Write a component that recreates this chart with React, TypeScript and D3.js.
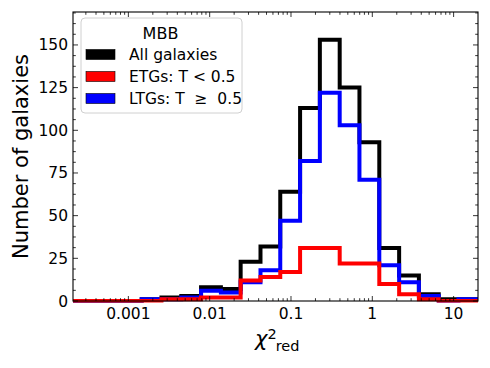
import React, { useEffect, useRef } from 'react';
import * as d3 from 'd3';

// bin edges of the chi2_red histogram (log spaced)
const binEdges = [
  1.549e-4, 2.71e-4, 4.753e-4, 8.318e-4, 1.459e-3, 2.553e-3, 4.477e-3, 7.834e-3,
  1.374e-2, 2.404e-2, 4.217e-2, 7.379e-2, 0.1294, 0.2265, 0.3972, 0.695,
  1.219, 2.138, 3.741, 6.561, 11.48, 20.14,
];

const allCounts = [0, 0, 0, 0, 1, 2, 3, 8, 7, 23, 32, 64, 113, 153, 125, 93, 31, 15, 4, 1, 1];
const etgCounts = [0, 0, 0, 0, 0, 1, 1, 2, 2, 12, 14, 17, 31, 31, 22, 22, 10, 4, 1, 0, 0];
const ltgCounts = [0, 0, 0, 0, 1, 1, 2, 6, 5, 11, 18, 47, 82, 122, 103, 71, 21, 11, 3, 0, 1];

const xTicks = [0.001, 0.01, 0.1, 1, 10];
const xTickLabels = ['0.001', '0.01', '0.1', '1', '10'];
const yTicks = [0, 25, 50, 75, 100, 125, 150];

const legendTitle = 'MBB';
const legendLabels = ['All galaxies', 'ETGs: T < 0.5', 'LTGs: T \u00a0\u2265\u00a0 0.5'];
const legendColors = ['#000000', '#ff0000', '#0000ff'];

const App = () => {
  const svgRef = useRef<SVGSVGElement>(null);

  useEffect(() => {
    const width = 490;
    const height = 368;
    const margin = { top: 12, right: 12, bottom: 67, left: 73 };
    const innerWidth = width - margin.left - margin.right;
    const innerHeight = height - margin.top - margin.bottom;
    const font = 'DejaVu Sans, sans-serif';

    const root = d3.select(svgRef.current);
    root.selectAll('*').remove();
    root.attr('width', width).attr('height', height);

    const svg = root.append('g')
      .attr('transform', `translate(${margin.left},${margin.top})`);

    const x = d3.scaleLog().domain([2.085e-4, 19.95]).range([0, innerWidth]);
    const y = d3.scaleLinear().domain([0, 169.3]).range([innerHeight, 0]);

    root.append('defs').append('clipPath').attr('id', 'plot-clip')
      .append('rect')
      .attr('x', 0).attr('y', 0)
      .attr('width', innerWidth).attr('height', innerHeight + 1.5);

    // step outlines, drawn in order: all, LTG, ETG
    const stepPoints = (counts: number[]) => {
      const pts: [number, number][] = [[x(binEdges[0]), y(0)]];
      counts.forEach((c, i) => {
        pts.push([x(binEdges[i]), y(c)]);
        pts.push([x(binEdges[i + 1]), y(c)]);
      });
      pts.push([x(binEdges[binEdges.length - 1]), y(0)]);
      return pts;
    };
    const line = d3.line();
    const series = [
      { counts: allCounts, color: legendColors[0] },
      { counts: ltgCounts, color: legendColors[2] },
      { counts: etgCounts, color: legendColors[1] },
    ];
    const plot = svg.append('g').attr('clip-path', 'url(#plot-clip)');
    series.forEach(s => {
      plot.append('path')
        .attr('d', line(stepPoints(s.counts)))
        .attr('fill', 'none')
        .attr('stroke', s.color)
        .attr('stroke-width', 4)
        .attr('stroke-linejoin', 'miter');
    });

    // ticks (inward on all four sides)
    const minorX: number[] = [];
    for (let e = -4; e <= 1; e++) {
      for (let m = 2; m <= 9; m++) {
        const v = m * Math.pow(10, e);
        if (v > x.domain()[0] && v < x.domain()[1]) minorX.push(v);
      }
    }
    const minorY = d3.range(0, 169.3, 6.25).filter(v => v % 25 !== 0);
    const ticks = svg.append('g').attr('stroke', '#000').attr('stroke-width', 0.8);
    const addX = (vals: number[], len: number) => {
      vals.forEach(v => {
        ticks.append('line').attr('x1', x(v)).attr('x2', x(v))
          .attr('y1', innerHeight).attr('y2', innerHeight - len);
        ticks.append('line').attr('x1', x(v)).attr('x2', x(v))
          .attr('y1', 0).attr('y2', len);
      });
    };
    const addY = (vals: number[], len: number) => {
      vals.forEach(v => {
        ticks.append('line').attr('y1', y(v)).attr('y2', y(v))
          .attr('x1', 0).attr('x2', len);
        ticks.append('line').attr('y1', y(v)).attr('y2', y(v))
          .attr('x1', innerWidth).attr('x2', innerWidth - len);
      });
    };
    addX(xTicks, 5);
    addX(minorX, 2.8);
    addY(yTicks, 5);
    addY(minorY, 2.8);

    svg.append('rect')
      .attr('width', innerWidth).attr('height', innerHeight)
      .attr('fill', 'none').attr('stroke', '#000').attr('stroke-width', 1.1);

    svg.selectAll('.xlab').data(xTicks).enter().append('text')
      .attr('x', d => x(d)).attr('y', innerHeight + 17.5)
      .attr('text-anchor', 'middle')
      .attr('font-family', font).attr('font-size', 15.5)
      .text((d, i) => xTickLabels[i]);

    svg.selectAll('.ylab').data(yTicks).enter().append('text')
      .attr('x', -5).attr('y', d => y(d) + 5.5)
      .attr('text-anchor', 'end')
      .attr('font-family', font).attr('font-size', 15.5)
      .text(d => d);

    // axis titles
    svg.append('text')
      .attr('transform', 'rotate(-90)')
      .attr('x', -innerHeight / 2).attr('y', -45)
      .attr('text-anchor', 'middle')
      .attr('font-family', font).attr('font-size', 21)
      .text('Number of galaxies');

    // chi^2_red as one text with super/subscript
    const xl = root.append('text')
      .attr('x', 255).attr('y', 346)
      .attr('font-family', font).attr('font-size', 21);
    xl.append('tspan').attr('font-style', 'italic').text('\u03c7');
    xl.append('tspan').attr('font-size', 14.5).attr('dx', 0).attr('dy', -7.5).text('2');
    xl.append('tspan').attr('font-size', 14.5).attr('dx', -1).attr('dy', 12).text('red');

    // legend
    const lg = root.append('g');
    lg.append('rect')
      .attr('x', 81).attr('y', 18).attr('width', 161).attr('height', 95)
      .attr('rx', 4).attr('fill', '#fff').attr('fill-opacity', 0.8)
      .attr('stroke', '#d0d0d0').attr('stroke-width', 1);
    lg.append('text').attr('x', 160.5).attr('y', 39)
      .attr('text-anchor', 'middle')
      .attr('font-family', font).attr('font-size', 16)
      .text(legendTitle);
    legendLabels.forEach((lab, i) => {
      const yy = 49.5 + i * 22;
      lg.append('rect')
        .attr('x', 86).attr('y', yy).attr('width', 29).attr('height', 10)
        .attr('fill', legendColors[i]).attr('stroke', '#000').attr('stroke-width', 0.6);
      lg.append('text').attr('x', 129).attr('y', yy + 10.5)
        .attr('font-family', font).attr('font-size', 15.5)
        .text(lab);
    });
  }, []);

  return (
    <div style={{ position: 'absolute', left: 0, top: 0 }}>
      <svg ref={svgRef} style={{ display: 'block' }}></svg>
    </div>
  );
};

export default App;
